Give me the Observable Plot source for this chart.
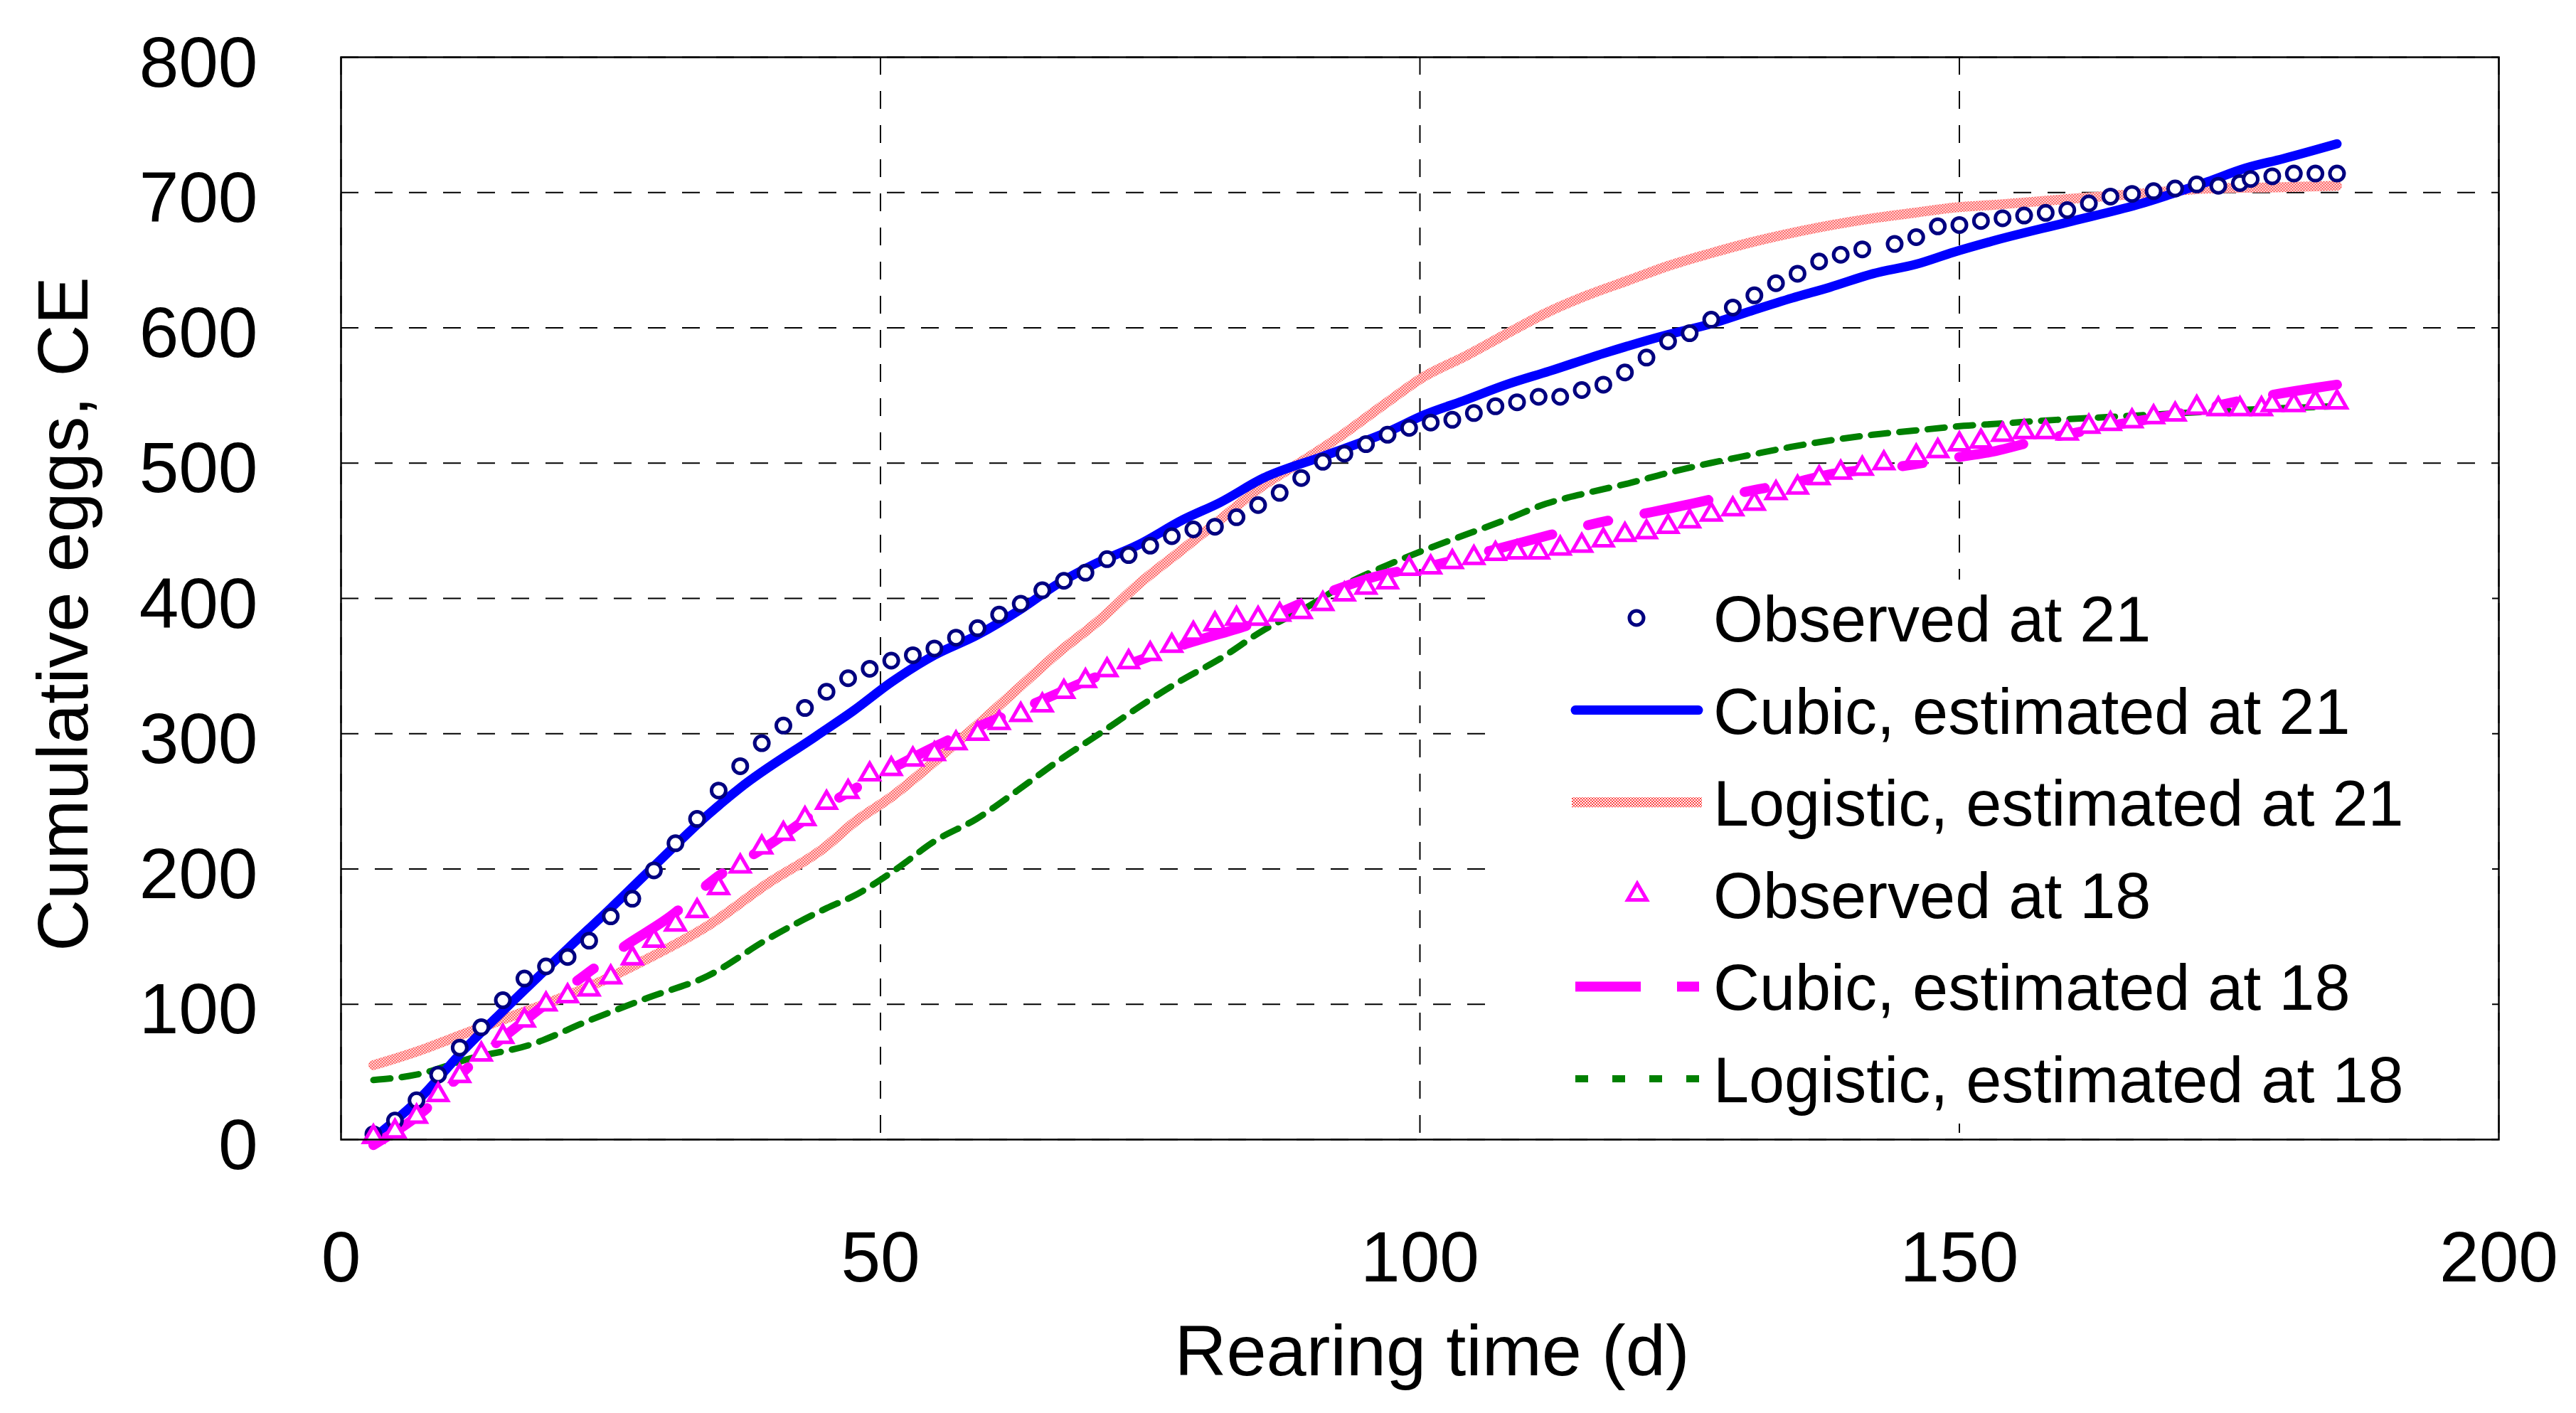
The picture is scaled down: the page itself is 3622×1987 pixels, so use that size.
<!DOCTYPE html>
<html>
<head>
<meta charset="utf-8">
<script src="https://cdn.jsdelivr.net/npm/d3@7"></script>
<script src="https://cdn.jsdelivr.net/npm/@observablehq/plot@0.6"></script>
<style>
  body { margin: 0; background: #fff; }
</style>
</head>
<body>
<div id="chart"></div>
<script>
// observed cumulative eggs at 21 (circles)
const obs21Day = [3,5,7,9,11,13,15,17,19,21,23,25,27,29,31,33,35,37,39,41,43,45,47,49,51,53,55,57,59,61,63,65,67,69,71,73,75,77,79,81,83,85,87,89,91,93,95,97,99,101,103,105,107,109,111,113,115,117,119,121,123,125,127,129,131,133,135,137,139,141,144,146,148,150,152,154,156,158,160,162,164,166,168,170,172,174,176,177,179,181,183,185]
const obs21Eggs = [4,14,29,48,68,83,103,119,128,135,147,165,178,199,219,237,258,276,293,306,319,331,341,348,354,358,363,371,378,388,396,406,413,419,429,432,439,446,451,453,460,469,478,489,501,507,514,521,526,530,532,537,542,545,549,549,554,558,567,578,590,596,606,615,624,633,640,649,654,658,662,667,675,676,679,681,683,685,687,692,697,699,701,703,706,705,707,710,712,714,714,714]

// observed cumulative eggs at 18 (triangles)
const obs18Day = [3,5,7,9,11,13,15,17,19,21,23,25,27,29,31,33,35,37,39,41,43,45,47,49,51,53,55,57,59,61,63,65,67,69,71,73,75,77,79,81,83,85,87,89,91,93,95,97,99,101,103,105,107,109,111,113,115,117,119,121,123,125,127,129,131,133,135,137,139,141,143,146,148,150,152,154,156,158,160,162,164,166,168,170,172,174,176,178,179,181,183,185]
const obs18Eggs = [2,6,17,33,47,63,76,88,100,106,111,120,134,147,159,169,186,202,216,226,237,249,257,270,274,281,285,293,300,308,314,321,331,339,347,353,359,365,374,381,385,385,388,390,396,403,408,412,422,423,427,430,433,434,434,437,439,443,447,449,453,457,462,466,470,478,482,489,493,496,500,505,509,514,516,521,523,523,522,527,529,531,534,536,541,540,540,540,543,543,545,545]

// fitted curves
const cubic21Day = [3,7.5,11,15,21,25,29,34,37,44,47.5,51,55,59,63,66.5,70,74,78,81.5,85.5,91,97,100.5,104,108,112,117,123,127,130.5,134.5,138,142,146,149.5,153,160,166.5,173,176.5,180,185]
const cubic21Eggs = [1,32,63,95,141,171,202,240,260,298,317,338,358,373,392,411,426,440,458,471,489,505,523,536,546,558,568,581,595,603,612,622,630,640,647,656,664,678,691,708,718,725,736]

const logis21Day = [3,7,12,17.5,23,28.5,34,39.5,45,47.5,51.3,55.1,58.9,62.7,66.5,70.3,74,77.8,81.6,85.4,89.2,93,96.8,100.4,104.2,107.9,111.7,115.5,119.3,123.1,126.9,130.6,134.4,138.2,142,145.8,149.6,153.4,159.7,166.4,173.2,179.9,185]
const logis21Eggs = [55,65,80,96,113,134,158,189,217,234,255,280,306,333,360,384,411,435,459,483,502,522,544,564,579,595,611,624,635,646,655,663,670,676,681,685,689,691,695,699,703,704,705]

const cubic18Day = [3,7.5,12,17.5,22.5,26.3,30.7,34.5,39.5,45,51,59,62.7,70.3,77.8,85.4,89.2,96.8,100.4,106.4,112.1,115.5,121.6,125.2,130.9,134.4,138.2,144,149.6,153.4,156.4,163,170,176.6,183.3,185]
const cubic18Eggs = [-4,20,55,91,121,143,166,192,217,247,274,305,317,343,365,384,397,418,423,435,447,454,464,470,480,485,492,497,504,509,515,526,536,547,556,558]

const logis18Day = [3,7,12,17.5,23,28.5,34,39.5,45,47.5,51.3,55.1,58.9,62.7,66.5,70.3,74,77.8,81.6,85.4,89.2,93,96.8,100.5,104.2,107.9,111.7,115.5,119.3,123.1,126.9,130.6,134.4,138.2,142,145.8,149.6,153.4,159,166,173,178,185]
const logis18Eggs = [44,48,60,70,88,105,121,148,171,180,199,221,237,258,280,300,320,339,356,376,392,410,424,436,447,458,470,478,485,493,500,506,512,517,521,524,527,529,532,535,538,540,542]

const xTicks = [0, 50, 100, 150, 200]
const yTicks = [0, 100, 200, 300, 400, 500, 600, 700, 800]

const legendLabels = ["Observed at 21", "Cubic, estimated at 21", "Logistic, estimated at 21",
  "Observed at 18", "Cubic, estimated at 18", "Logistic, estimated at 18"]

const rows = (days, eggs) => days.map((d, i) => ({day: d, eggs: eggs[i]}))

const grid = {stroke: "#000", strokeOpacity: 1, strokeWidth: 2, strokeDasharray: "25,23"}
const font = "'Liberation Sans', Arial, sans-serif"

let chart = Plot.plot({
  width: 3622,
  height: 1987,
  marginLeft: 479,
  marginRight: 109,
  marginTop: 80,
  marginBottom: 385,
  x: {domain: [0, 200]},
  y: {domain: [0, 800]},
  style: {background: "white", fontFamily: font, fontSize: "100px", color: "black"},
  marks: [
    Plot.gridY(yTicks, grid),
    Plot.gridX(xTicks, grid),
    Plot.axisX(xTicks, {tickSize: 0, tickPadding: 128, label: null}),
    Plot.axisY(yTicks, {tickSize: 0, tickPadding: 117, dy: 9, label: null}),
    Plot.line(rows(logis21Day, logis21Eggs), {
      x: "day", y: "eggs", stroke: "url(#stipple)", strokeWidth: 14, curve: "monotone-x"
    }),
    Plot.line(rows(logis18Day, logis18Eggs), {
      x: "day", y: "eggs", stroke: "#008000", strokeWidth: 9, strokeDasharray: "24,16", curve: "monotone-x"
    }),
    Plot.line(rows(cubic21Day, cubic21Eggs), {
      x: "day", y: "eggs", stroke: "#0000ff", strokeWidth: 13, strokeLinecap: "round", curve: "monotone-x"
    }),
    Plot.line(rows(cubic18Day, cubic18Eggs), {
      x: "day", y: "eggs", stroke: "#ff00ff", strokeWidth: 14, strokeDasharray: "92,52,29,52", curve: "monotone-x"
    }),
    Plot.dot(rows(obs21Day, obs21Eggs), {
      x: "day", y: "eggs", r: 10, fill: "white", stroke: "#000080", strokeWidth: 5
    }),
    Plot.dot(rows(obs18Day, obs18Eggs), {
      x: "day", y: "eggs", symbol: "triangle", r: 10, fill: "white", stroke: "#ff00ff", strokeWidth: 5
    }),
    Plot.frame({stroke: "#000", strokeWidth: 2.5}),
    Plot.text(["Rearing time (d)"], {
      text: d => d, frameAnchor: "bottom", lineAnchor: "bottom", dx: 17, dy: 331, fontSize: 101
    }),
    Plot.text(["Cumulative eggs, CE"], {
      text: d => d, frameAnchor: "left", textAnchor: "middle", lineAnchor: "bottom",
      rotate: -90, dx: -357, dy: 22, fontSize: 101
    })
  ]
})

const svg = d3.select(chart)

// stippled red fill used by the logistic (21) curve
const pat = svg.insert("defs", ":first-child").append("pattern")
  .attr("id", "stipple").attr("patternUnits", "userSpaceOnUse")
  .attr("width", 4).attr("height", 4)
pat.append("rect").attr("width", 4).attr("height", 4).attr("fill", "#fff")
pat.append("rect").attr("width", 2).attr("height", 2).attr("fill", "#ff4040")
pat.append("rect").attr("x", 2).attr("y", 2).attr("width", 2).attr("height", 2).attr("fill", "#ff4040")

// legend box inside the plot area
const leg = svg.append("g").style("font-family", font).style("font-size", "90px")
leg.append("rect").attr("x", 2089).attr("y", 815).attr("width", 1415).attr("height", 765).attr("fill", "white")

const baseY = 902, step = 129.6
leg.selectAll("text.lab").data(legendLabels).join("text")
  .attr("class", "lab")
  .attr("x", 2409)
  .attr("y", (d, i) => baseY + i * step)
  .attr("text-anchor", "start")
  .attr("fill", "black")
  .text(d => d)

const cy = i => baseY + i * step - 33
leg.append("circle").attr("cx", 2301).attr("cy", cy(0)).attr("r", 10)
  .attr("fill", "white").attr("stroke", "#000080").attr("stroke-width", 5)
leg.append("line").attr("x1", 2215).attr("x2", 2388).attr("y1", cy(1)).attr("y2", cy(1))
  .attr("stroke", "#0000ff").attr("stroke-width", 13).attr("stroke-linecap", "round")
leg.append("rect").attr("x", 2210).attr("y", cy(2) - 7).attr("width", 183).attr("height", 14)
  .attr("fill", "url(#stipple)")
leg.append("path").attr("d", d3.symbol(d3.symbolTriangle, Math.PI * 100)())
  .attr("transform", `translate(2302,${cy(3)})`)
  .attr("fill", "white").attr("stroke", "#ff00ff").attr("stroke-width", 5)
leg.append("rect").attr("x", 2215).attr("y", cy(4) - 7).attr("width", 92).attr("height", 14).attr("fill", "#ff00ff")
leg.append("rect").attr("x", 2358).attr("y", cy(4) - 7).attr("width", 31).attr("height", 14).attr("fill", "#ff00ff")
leg.selectAll("rect.dot").data([2215, 2267, 2319, 2371]).join("rect")
  .attr("class", "dot")
  .attr("x", d => d).attr("y", cy(5) - 5).attr("width", 18).attr("height", 10).attr("fill", "#008000")

d3.select("#chart").append(() => chart)
</script>
</body>
</html>
